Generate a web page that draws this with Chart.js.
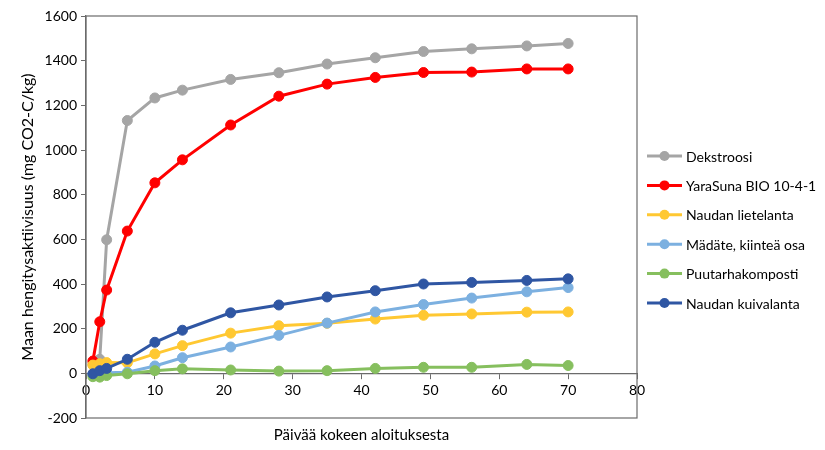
<!DOCTYPE html>
<html>
<head>
<meta charset="utf-8">
<script src="https://cdn.jsdelivr.net/npm/chart.js@4.4.1/dist/chart.umd.min.js"></script>
<style>
  html, body { margin: 0; padding: 0; background: #fff; }
  #wrap { width: 825px; height: 450px; }
</style>
</head>
<body>
<div id="wrap"><canvas id="chart" width="825" height="450"></canvas></div>
<script>
"use strict";

// Days since start of the experiment
var days = [1, 2, 3, 6, 10, 14, 21, 28, 35, 42, 49, 56, 64, 70];

// Cumulative soil respiration (mg CO2-C/kg)
var dekstroosi      = [40, 63, 598, 1132, 1233, 1268, 1316, 1346, 1385, 1413, 1441, 1453, 1466, 1477];
var yaraSuna        = [55, 231, 373, 637, 853, 956, 1112, 1241, 1295, 1325, 1347, 1349, 1363, 1363];
var lietelanta      = [37, 43, 48, 47, 87, 124, 180, 213, 224, 243, 260, 266, 274, 275];
var madate          = [-5, 0, 3, 5, 33, 70, 118, 170, 225, 275, 308, 337, 365, 384];
var puutarhakomp    = [-15, -17, -10, -2, 12, 20, 15, 10, 12, 22, 27, 27, 40, 35];
var kuivalanta      = [-2, 12, 22, 63, 139, 193, 271, 306, 342, 370, 400, 407, 416, 423];

var seriesNames  = ['Dekstroosi', 'YaraSuna BIO 10-4-1', 'Naudan lietelanta', 'Mädäte, kiinteä osa', 'Puutarhakomposti', 'Naudan kuivalanta'];
var seriesValues = [dekstroosi, yaraSuna, lietelanta, madate, puutarhakomp, kuivalanta];
var seriesColors = ['#a5a5a5', '#ff0000', '#ffc832', '#7cb0e0', '#86bf5e', '#2f56a3'];

var xTickStep = 10;
var yTickStep = 200;

var fontFamily = 'Lato, "Liberation Sans", sans-serif';
var axisColor = '#6b6b6b';

function toPoints(values) {
    return days.map(function (d, i) { return { x: d, y: values[i] }; });
}

var datasets = seriesNames.map(function (name, i) {
    return {
        label: name,
        data: toPoints(seriesValues[i]),
        borderColor: seriesColors[i],
        backgroundColor: seriesColors[i],
        pointBackgroundColor: seriesColors[i],
        pointBorderColor: seriesColors[i],
        borderWidth: 3,
        pointRadius: 5,
        pointBorderWidth: 1,
        tension: 0,
        // later series sit on top, like in the original
        order: seriesNames.length - i
    };
});

// Frame around the plot area
var plotFrame = {
    id: 'plotFrame',
    beforeDatasetsDraw: function (chart) {
        var a = chart.chartArea, ctx = chart.ctx;
        ctx.save();
        ctx.strokeStyle = axisColor;
        ctx.lineWidth = 1.2;
        ctx.strokeRect(a.left, a.top, a.right - a.left, a.bottom - a.top);
        ctx.restore();
    }
};

// Legend on the right: line with a dot, then the label
var sideLegend = {
    id: 'sideLegend',
    afterDraw: function (chart) {
        var ctx = chart.ctx, a = chart.chartArea;
        var x0 = a.right + 10, top = 156, gap = 29.4;
        ctx.save();
        chart.data.datasets.forEach(function (ds, i) {
            var y = top + i * gap;
            ctx.strokeStyle = ds.borderColor;
            ctx.fillStyle = ds.borderColor;
            ctx.lineWidth = 3;
            ctx.beginPath();
            ctx.moveTo(x0, y);
            ctx.lineTo(x0 + 35, y);
            ctx.stroke();
            ctx.beginPath();
            ctx.arc(x0 + 17.5, y, 5, 0, Math.PI * 2);
            ctx.fill();
            ctx.fillStyle = '#000';
            ctx.font = '14px ' + fontFamily;
            ctx.textBaseline = 'middle';
            ctx.textAlign = 'left';
            ctx.fillText(ds.label, x0 + 39, y + 1);
        });
        ctx.restore();
    }
};

var chart = new Chart(document.getElementById('chart').getContext('2d'), {
    type: 'line',
    data: { datasets: datasets },
    options: {
        responsive: false,
        animation: false,
        devicePixelRatio: 1,
        layout: { padding: { left: 0, right: 188, top: 16, bottom: 0 } },
        plugins: {
            legend: { display: false },
            tooltip: { enabled: false }
        },
        scales: {
            // bottom axis only carries the title
            x: {
                type: 'linear',
                min: 0,
                max: 80,
                position: 'bottom',
                ticks: { display: false },
                grid: { display: false, drawTicks: false },
                border: { display: false },
                title: {
                    display: true,
                    text: 'Päivää kokeen aloituksesta',
                    color: '#000',
                    font: { family: fontFamily, size: 15 },
                    padding: { top: 0, bottom: 6 }
                },
                afterFit: function (s) { s.height = 32; }
            },
            // axis with tick labels crosses at y = 0
            x2: {
                type: 'linear',
                min: 0,
                max: 80,
                position: { y: 0 },
                ticks: {
                    stepSize: xTickStep,
                    color: '#000',
                    font: { family: fontFamily, size: 14 },
                    padding: 4
                },
                grid: { drawOnChartArea: false, tickLength: 5, color: axisColor },
                border: { color: axisColor, width: 1.2 }
            },
            y: {
                type: 'linear',
                min: -200,
                max: 1600,
                ticks: {
                    stepSize: yTickStep,
                    color: '#000',
                    font: { family: fontFamily, size: 14 },
                    padding: 4,
                    callback: function (v) { return String(v); }
                },
                grid: { drawOnChartArea: false, tickLength: 5, color: axisColor },
                border: { color: axisColor, width: 1.2 },
                title: {
                    display: true,
                    text: 'Maan hengitysaktiivisuus (mg CO2-C/kg)',
                    color: '#000',
                    font: { family: fontFamily, size: 16 },
                    padding: { top: 18, bottom: 4 }
                },
                afterFit: function (s) { s.width = 86; }
            }
        }
    },
    plugins: [plotFrame, sideLegend]
});
</script>
</body>
</html>
